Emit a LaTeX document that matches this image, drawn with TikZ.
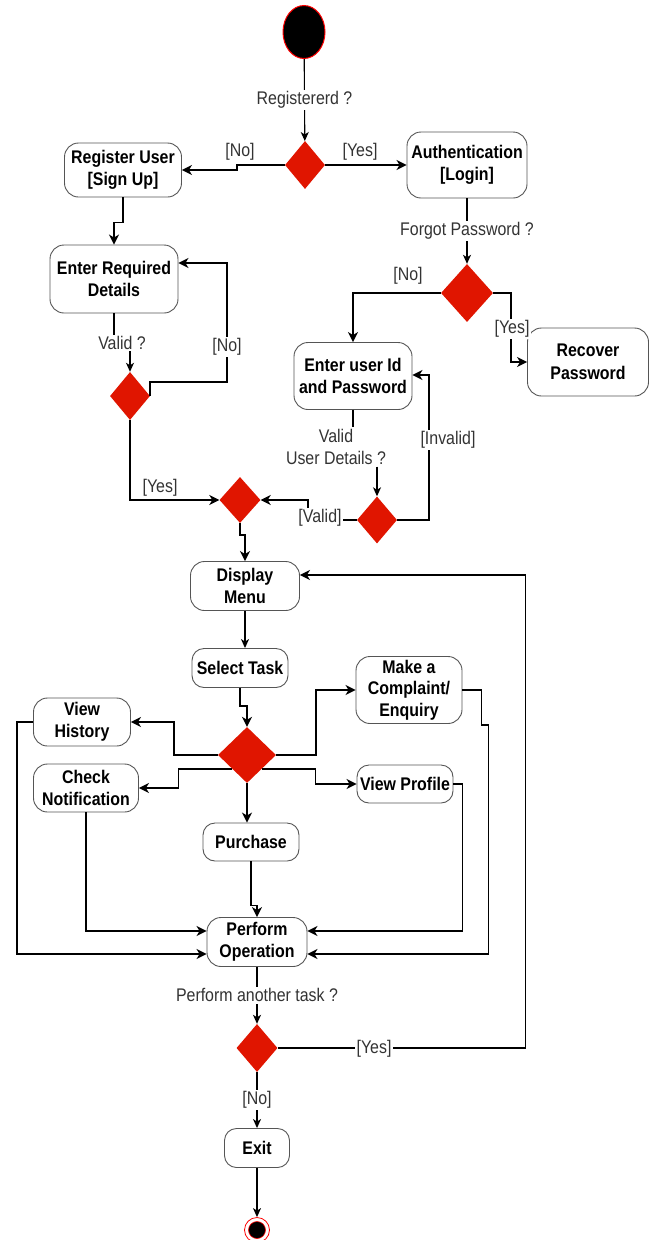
\documentclass[tikz,border=0pt]{standalone}
\usepackage{fontspec}
\setmainfont[FakeStretch=0.87]{Liberation Sans}
\usetikzlibrary{shapes.geometric,arrows.meta,calc}
\definecolor{decred}{RGB}{224,21,0}
\definecolor{boxline}{RGB}{85,85,85}
\definecolor{guardtext}{RGB}{51,51,51}

\begin{document}
\begin{tikzpicture}[x=1pt,y=-1pt]
        \tikzstyle{every node}=[font=\fontsize{18.3}{22.5}\selectfont];
        \tikzstyle{activity}=[draw=boxline, line width=0.9pt, rounded corners=14pt, align=center, inner sep=2pt, font=\fontsize{18.3}{22.5}\selectfont\bfseries];
        \tikzstyle{decision}=[shape=diamond, fill=decred, inner sep=0pt];
        \tikzstyle{guard}=[text=guardtext, fill=white, inner sep=1.5pt, align=center];
        \tikzstyle{flowline}=[line width=1.5pt, -{Stealth[length=10pt,width=10pt,inset=3pt]}];
        \tikzstyle{thinflow}=[line width=1.1pt, -{Stealth[length=9pt,width=8pt,inset=2.5pt]}];
        \tikzstyle{plainline}=[line width=1.1pt];

        \useasboundingbox (0,0) rectangle (654,1240);

        \node[ellipse, fill=black, draw=red, line width=1pt, minimum width=42pt, minimum height=53pt, inner sep=0pt] (start) at (304,32) {};
        \node[decision, minimum width=40pt, minimum height=48pt] (d1) at (305,165) {};
        \node[activity, minimum width=117pt, minimum height=54pt] (reg) at (123,170) {Register User\\{[Sign Up]}};
        \node[activity, minimum width=120pt, minimum height=66pt] (auth) at (467,165) {Authentication\\{[Login]}};
        \node[activity, minimum width=128pt, minimum height=68pt] (erd) at (114,279) {Enter Required\\Details};
        \node[decision, minimum width=40pt, minimum height=48pt] (d2) at (130,396) {};
        \node[decision, minimum width=52pt, minimum height=58pt] (d4) at (467,293) {};
        \node[activity, minimum width=121pt, minimum height=68pt] (recover) at (588,362) {Recover\\Password};
        \node[activity, minimum width=118pt, minimum height=67pt] (eui) at (353,376) {Enter user Id\\and Password};
        \node[decision, minimum width=40pt, minimum height=47pt] (d5) at (377,520) {};
        \node[decision, minimum width=41pt, minimum height=46pt] (d3) at (240,500) {};
        \node[activity, minimum width=109pt, minimum height=49pt] (menu) at (245,586) {Display\\Menu};
        \node[activity, minimum width=96pt, minimum height=39pt, rounded corners=12pt] (task) at (240,668) {Select Task};
        \node[decision, minimum width=58pt, minimum height=56pt] (d6) at (247,755) {};
        \node[activity, minimum width=97pt, minimum height=48pt] (hist) at (82,722) {View\\History};
        \node[activity, minimum width=105pt, minimum height=48pt] (notif) at (86,788) {Check\\Notification};
        \node[activity, minimum width=106pt, minimum height=67pt, inner sep=0pt, font=\fontsize{18.3}{21.5}\selectfont\bfseries] (compl) at (409,690) {Make a\\Complaint/\\Enquiry};
        \node[activity, minimum width=96pt, minimum height=38pt, rounded corners=12pt] (prof) at (405,784) {View Profile};
        \node[activity, minimum width=96pt, minimum height=38pt, rounded corners=12pt] (purch) at (251,842) {Purchase};
        \node[activity, minimum width=100pt, minimum height=49pt] (oper) at (257,942) {Perform\\Operation};
        \node[decision, minimum width=41pt, minimum height=48pt] (d7) at (257,1048) {};
        \node[activity, minimum width=65pt, minimum height=39pt, rounded corners=12pt] (exit) at (257,1148) {Exit};
        \node[circle, draw=red, line width=0.8pt, minimum size=25pt, inner sep=0pt] (endring) at (257,1230) {};
        \node[circle, fill=black, draw=red, line width=0.6pt, minimum size=17pt, inner sep=0pt] (enddot) at (257,1230) {};

        \node[guard] (validq) at (122,343) {Valid ?};
        \node[guard] (udq) at (336,447) {Valid\\User Details ?};

        \draw[thinflow] (start) -- node[guard] (regq) {Registererd ?} (d1);
        \draw[flowline] (d1.west) -- ++(-48,0) |- (reg.east);
        \draw[flowline] (d1) -- (auth);
        \draw[flowline] (reg.south) -- ++(0,25) -| (erd.north);
        \draw[plainline] (erd.south) -- (erd.south |- validq.north);
        \draw[thinflow] (d2.north |- validq.south) -- (d2.north);
        \draw[flowline] (d2.east) -- ++(0,-14) -- ++(77,0) |- ($(erd.east)+(0,-16)$);
        \draw[flowline] (d2.south) |- (d3.west);
        \draw[thinflow] (auth) -- node[guard] (forgotq) {Forgot Password ?} (d4);
        \draw[flowline] (d4.west) -| (eui.north);
        \draw[flowline] (d4.east) -- ++(18,0) |- (recover.west);
        \draw[plainline] (eui.south) -- (eui.south |- udq.north);
        \draw[thinflow] (d5.north |- udq.south) -- (d5.north);
        \draw[flowline] (d5.east) -- ++(32,0) |- ($(eui.east)+(0,-1)$);
        \draw[flowline] (d5.west) -- ++(-49,0) |- (d3.east);
        \draw[flowline] (d3.south) -- ++(0,12) -| (menu.north);
        \draw[thinflow] (menu.south) -- (menu.south |- task.north);
        \draw[flowline] (task.south) -- ++(0,18) -| (d6.north);
        \draw[flowline] (d6.west) -- ++(-44,0) |- (hist.east);
        \draw[flowline] (d6.east) -- ++(40,0) |- (compl.west);
        \draw[flowline] ($(d6.west)!0.5!(d6.south)$) -- ++(-54,0) |- (notif.east);
        \draw[flowline] ($(d6.east)!0.5!(d6.south)$) -- ++(54,0) |- (prof.west);
        \draw[flowline] (d6.south) -- (d6.south |- purch.north);
        \draw[flowline] (purch.south) -- ++(0,44) -| (oper.north);
        \draw[flowline] (notif.south) |- ($(oper.west)+(0,-11)$);
        \draw[flowline] (hist.west) -- ++(-16,0) |- ($(oper.west)+(0,12)$);
        \draw[flowline] (prof.east) -- ++(9,0) |- ($(oper.east)+(0,-11)$);
        \draw[flowline] (compl.east) -- ++(19,0) -- ++(0,35) -- ++(7,0) |- ($(oper.east)+(0,12)$);
        \draw[thinflow] (oper) -- node[guard] (anotherq) {Perform another task ?} (d7);
        \draw[flowline] (d7.east) -- ++(248,0) |- ($(menu.east)+(0,-11)$);
        \draw[thinflow] (d7) -- node[guard] (gno4) {[No]} (exit);
        \draw[thinflow] (exit) -- (endring);

        \node[guard] (gno1) at (240,152) {[No]};
        \node[guard] (gyes1) at (360,152) {[Yes]};
        \node[guard] (gno2) at (227,347) {[No]};
        \node[guard] (gyes2) at (160,488) {[Yes]};
        \node[guard] (gno3) at (408,276) {[No]};
        \node[guard] (gyes3) at (512,329) {[Yes]};
        \node[guard] (ginv) at (448,440) {[Invalid]};
        \node[guard] (gval) at (320,518) {[Valid]};
        \node[guard] (gyes4) at (374,1049) {[Yes]};
\end{tikzpicture}
\end{document}
